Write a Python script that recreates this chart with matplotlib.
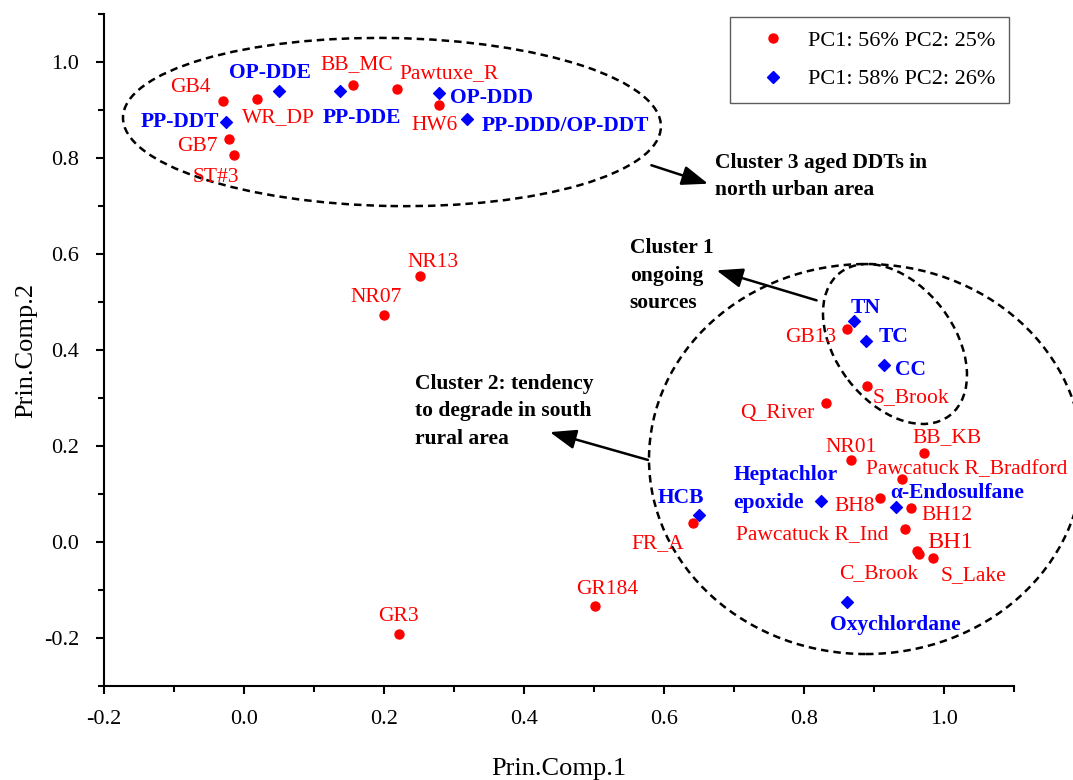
import matplotlib
matplotlib.use('Agg')
import matplotlib.pyplot as plt
from matplotlib.patches import Ellipse
from matplotlib.lines import Line2D
from matplotlib.transforms import Affine2D

plt.rcParams['font.family'] = ['Liberation Serif', 'DejaVu Serif']

# Sitios de muestreo (puntos rojos)
sitios = ['GB4', 'WR_DP', 'BB_MC', 'Pawtuxe_R', 'HW6', 'GB7', 'ST#3', 'NR13', 'NR07',
          'GB13', 'S_Brook', 'Q_River', 'BB_KB', 'NR01', 'Pawcatuck R_Bradford', 'BH8',
          'BH12', 'Pawcatuck R_Ind', 'BH1', 'C_Brook', 'S_Lake', 'FR_A', 'GR184', 'GR3']
sitios_x = [-0.030, 0.018, 0.156, 0.218, 0.278, -0.021, -0.014, 0.251, 0.200,
            0.862, 0.890, 0.831, 0.972, 0.867, 0.940, 0.909,
            0.953, 0.944, 0.964, 0.961, 0.984, 0.642, 0.502, 0.221]
sitios_y = [0.918, 0.922, 0.953, 0.944, 0.910, 0.839, 0.807, 0.554, 0.474,
            0.444, 0.326, 0.290, 0.186, 0.171, 0.131, 0.092,
            0.071, 0.028, -0.025, -0.019, -0.033, 0.040, -0.133, -0.192]

# Compuestos (rombos azules)
compuestos = ['OP-DDE', 'PP-DDE', 'OP-DDD', 'PP-DDD/OP-DDT', 'PP-DDT', 'TN', 'TC', 'CC',
              'HCB', 'Heptachlor\nepoxide', 'α-Endosulfane', 'Oxychlordane']
comp_x = [0.050, 0.137, 0.279, 0.318, -0.026, 0.871, 0.889, 0.915,
          0.650, 0.825, 0.931, 0.861]
comp_y = [0.939, 0.939, 0.936, 0.882, 0.876, 0.460, 0.418, 0.368,
          0.056, 0.085, 0.073, -0.124]

leyenda = ['PC1: 56% PC2: 25%', 'PC1: 58% PC2: 26%']

# desplazamientos de las etiquetas (pixeles, izquierda / linea base de la ultima linea)
off_sitios = {
    'GB4': (-53, 9), 'WR_DP': (-15, -23), 'BB_MC': (-33, 16), 'Pawtuxe_R': (3, 11),
    'HW6': (-27, -25), 'GB7': (-52, -12), 'ST#3': (-42, -27), 'NR13': (-12, 9),
    'NR07': (-34, 13), 'GB13': (-62, -13), 'S_Brook': (6, -17), 'Q_River': (-86, -15),
    'BB_KB': (-12, 11), 'NR01': (-25, 8), 'Pawcatuck R_Bradford': (-36, 5),
    'BH8': (-46, -13), 'BH12': (10, -12), 'Pawcatuck R_Ind': (-169, -11),
    'BH1': (8, 6), 'C_Brook': (-78, -27), 'S_Lake': (8, -22), 'FR_A': (-62, -25),
    'GR184': (-19, 12), 'GR3': (-21, 13),
}
off_comp = {
    'OP-DDE': (-50, 13), 'PP-DDE': (-17, -32), 'OP-DDD': (11, -10),
    'PP-DDD/OP-DDT': (15, -12), 'PP-DDT': (-85, -5), 'TN': (-3, 8), 'TC': (12, -1),
    'CC': (11, -10), 'HCB': (-41, 12), 'Heptachlor\nepoxide': (-88, -7),
    'α-Endosulfane': (-5, 9), 'Oxychlordane': (-17, -28),
}

fig = plt.figure(figsize=(10.73, 7.8), dpi=100)
ax = fig.add_axes([0.0969, 0.1205, 0.8481, 0.8615])
ax.set_xlim(-0.2, 1.1)
ax.set_ylim(-0.3, 1.1)

ax.scatter(sitios_x, sitios_y, s=42, c='#ff0000', marker='o', zorder=3)
ax.scatter(comp_x, comp_y, s=36, c='#0000ff', marker='D', zorder=3)

for nombre, x, y in zip(sitios, sitios_x, sitios_y):
    fs = 17.5 if nombre == 'BH1' else 15.5
    ax.annotate(nombre, (x, y), xytext=off_sitios[nombre], textcoords='offset pixels',
                ha='left', va='baseline', color='#ff0000', fontsize=fs)
for nombre, x, y in zip(compuestos, comp_x, comp_y):
    ax.annotate(nombre, (x, y), xytext=off_comp[nombre], textcoords='offset pixels',
                ha='left', va='baseline', color='#0000ff', fontsize=15.5,
                fontweight='bold', linespacing=1.55)

# elipses de los clusters (tamanos en pixeles)
sx = ax.bbox.width / 1.3
sy = ax.bbox.height / 1.4


def elipse(cx, cy, w, h, ang):
    tr = Affine2D().scale(1 / sx, 1 / sy).translate(cx, cy) + ax.transData
    ax.add_patch(Ellipse((0, 0), w, h, angle=ang, fill=False, ec='black', lw=1.8,
                         ls=(0, (3, 2)), transform=tr, zorder=2, clip_on=False))


elipse(0.2114, 0.875, 538, 168, -1)
elipse(0.930, 0.4125, 180, 118, -52.6)
elipse(0.8886, 0.1729, 434, 390, 0)

# flechas y textos de los clusters
flecha = dict(arrowstyle='-|>,head_length=0.8,head_width=0.3', color='black', lw=1.8,
              mutation_scale=20, shrinkA=0, shrinkB=0)
ax.annotate('', xy=(0.663, 0.7465), xytext=(0.582, 0.785), arrowprops=flecha)
ax.annotate('', xy=(0.675, 0.566), xytext=(0.818, 0.5035), arrowprops=flecha)
ax.annotate('', xy=(0.437, 0.229), xytext=(0.577, 0.171), arrowprops=flecha)

ax.text(0.673, 0.7223, 'Cluster 3 aged DDTs in\nnorth urban area', fontsize=15.5,
        fontweight='bold', va='baseline', linespacing=1.5)
ax.text(0.551, 0.4875, 'Cluster 1\nongoing\nsources', fontsize=15.5,
        fontweight='bold', va='baseline', linespacing=1.5)
ax.text(0.244, 0.2048, 'Cluster 2: tendency\nto degrade in south\nrural area', fontsize=15.5,
        fontweight='bold', va='baseline', linespacing=1.5)

# ejes
for lado in ['top', 'right']:
    ax.spines[lado].set_visible(False)
for lado in ['left', 'bottom']:
    ax.spines[lado].set_linewidth(1.5)
ax.set_xticks([-0.2, 0.0, 0.2, 0.4, 0.6, 0.8, 1.0])
ax.set_xticks([-0.1, 0.1, 0.3, 0.5, 0.7, 0.9, 1.1], minor=True)
ax.set_yticks([-0.2, 0.0, 0.2, 0.4, 0.6, 0.8, 1.0])
ax.set_yticks([-0.3, -0.1, 0.1, 0.3, 0.5, 0.7, 0.9, 1.1], minor=True)
ax.set_xticklabels(['-0.2', '0.0', '0.2', '0.4', '0.6', '0.8', '1.0'])
ax.set_yticklabels(['-0.2', '0.0', '0.2', '0.4', '0.6', '0.8', '1.0'])
ax.tick_params(which='major', direction='out', length=6, width=1.5, labelsize=16)
ax.tick_params(axis='x', which='major', pad=11)
ax.tick_params(axis='y', which='major', pad=12)
ax.tick_params(which='minor', direction='out', length=4, width=1.5)
ax.set_xlabel('Prin.Comp.1', fontsize=19, labelpad=21)
ax.set_ylabel('Prin.Comp.2', fontsize=19, labelpad=5)

handles = [Line2D([], [], ls='none', marker='o', color='#ff0000', markersize=6.5),
           Line2D([], [], ls='none', marker='D', color='#0000ff', markersize=6)]
leg = ax.legend(handles, leyenda, loc='upper right', bbox_to_anchor=(0.9945, 0.9955),
                fontsize=16, frameon=True, fancybox=False, edgecolor='#333333',
                handlelength=2.6, handletextpad=0.3, borderpad=0.6, labelspacing=0.8,
                borderaxespad=0)
leg.get_frame().set_linewidth(1.0)

plt.savefig('out.png', dpi=100)
